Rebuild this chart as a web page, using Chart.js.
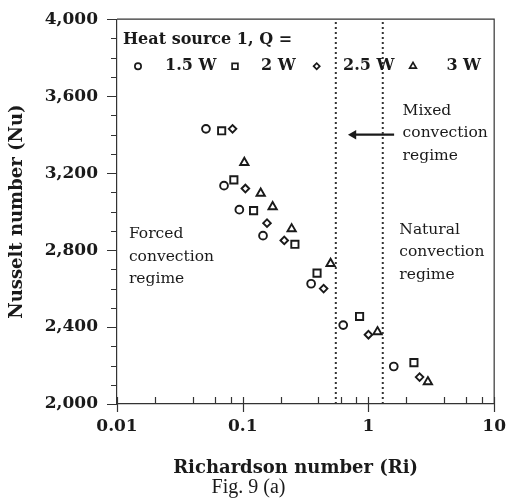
<!DOCTYPE html>
<html>
<head>
<meta charset="utf-8">
<script src="https://cdn.jsdelivr.net/npm/chart.js@4.4.1/dist/chart.umd.min.js"></script>
<style>
  html, body { margin: 0; padding: 0; background: #fff; }
  #wrap { width: 510px; height: 501px; }
</style>
</head>
<body>
<div id="wrap"><canvas id="nuChart"></canvas></div>
<script>
/* Nusselt vs Richardson, heat source 1 */

// Ri / Nu per heat input
const ri15 = [0.051, 0.071, 0.094, 0.145, 0.35, 0.63, 1.59];
const nu15 = [3430, 3135, 3010, 2875, 2625, 2410, 2195];
const ri20 = [0.068, 0.085, 0.122, 0.26, 0.39, 0.85, 2.3];
const nu20 = [3420, 3165, 3005, 2830, 2680, 2455, 2215];
const ri25 = [0.083, 0.105, 0.156, 0.214, 0.44, 1.0, 2.55];
const nu25 = [3430, 3120, 2940, 2850, 2600, 2360, 2140];
const ri30 = [0.103, 0.139, 0.173, 0.245, 0.5, 1.18, 2.97];
const nu30 = [3255, 3095, 3025, 2910, 2730, 2375, 2115];

const seriesLabels = ["1.5 W", "2 W", "2.5 W", "3 W"];

// mixed regime bounds (dotted verticals) + arrow
const regimeBounds = [0.55, 1.3];
const boundNu = [2000, 4000];
const arrowRi = [1.6, 0.76];
const arrowNu = [3400, 3400];

// axes
const xTickValues = [0.01, 0.02, 0.04, 0.06, 0.08, 0.1, 0.2, 0.4, 0.6, 0.8, 1, 2, 4, 6, 8, 10];
const xLabelValues = [0.01, 0.1, 1, 10];
const yMin = 2000, yMax = 4000, yStep = 100, yLabelStep = 400;

const INK = "#1a1a1a";
const SERIF = "'DejaVu Serif', serif";
const TICK_FONT = { family: SERIF, size: 17, weight: "bold" };

const pts = (xs, ys) => xs.map((x, i) => ({ x, y: ys[i] }));

const markers = [
  { style: "circle", radius: 3.9 },
  { style: "rect", radius: 5.1 },
  { style: "rectRot", radius: 3.8 },
  { style: "triangle", radius: 4.8 },
];

const seriesData = [pts(ri15, nu15), pts(ri20, nu20), pts(ri25, nu25), pts(ri30, nu30)];

const datasets = seriesData.map((data, i) => ({
  label: seriesLabels[i],
  data,
  pointStyle: markers[i].style,
  pointRadius: markers[i].radius,
  pointBorderWidth: 1.9,
  pointBorderColor: INK,
  pointBackgroundColor: "#fff",
  showLine: false,
}));

regimeBounds.forEach((ri) => {
  datasets.push({
    label: "bound",
    data: boundNu.map((nu) => ({ x: ri, y: nu })),
    showLine: true,
    borderColor: "#333",
    borderWidth: 2,
    borderDash: [2, 3],
    pointRadius: 0,
  });
});

datasets.push({
  label: "arrow",
  data: pts(arrowRi, arrowNu),
  showLine: true,
  borderColor: INK,
  borderWidth: 2.2,
  pointRadius: [0, 5.5],
  pointStyle: "triangle",
  pointRotation: 270,
  pointBorderWidth: 0,
  pointBackgroundColor: INK,
});

// region labels, anchored in data coords
const notes = [
  { ri: 0.01244, nu: 2882, lines: ["Forced", "convection", "regime"] },
  { ri: 1.87, nu: 3525, lines: ["Mixed", "convection", "regime"] },
  { ri: 1.76, nu: 2907, lines: ["Natural", "convection", "regime"] },
];

/* ---------- frame, ticks, legend, notes ---------- */
const decor = {
  id: "decor",
  afterDraw(chart) {
    const { ctx, chartArea: a, scales: { x, y } } = chart;
    ctx.save();

    // top/right frame + tick marks
    ctx.strokeStyle = "#333";
    ctx.lineWidth = 1.2;
    ctx.beginPath();
    ctx.moveTo(a.left, a.top);
    ctx.lineTo(a.right, a.top);
    ctx.lineTo(a.right, a.bottom);
    y.ticks.forEach((t) => {
      const py = Math.round(y.getPixelForValue(t.value)) + 0.5;
      const len = t.value % yLabelStep === 0 ? 10 : 6;
      ctx.moveTo(a.left - len, py);
      ctx.lineTo(a.left, py);
    });
    x.ticks.forEach((t) => {
      const px = Math.round(x.getPixelForValue(t.value)) + 0.5;
      const major = xLabelValues.includes(t.value);
      ctx.moveTo(px, a.bottom - 7);
      ctx.lineTo(px, a.bottom + (major ? 8 : 0));
    });
    ctx.stroke();

    // legend
    ctx.fillStyle = INK;
    ctx.textBaseline = "middle";
    ctx.textAlign = "left";
    ctx.font = `bold 16px ${SERIF}`;
    ctx.fillText("Heat source 1, Q =", a.left + 6, a.top + 21);
    const markX = [21, 118, 199.7, 296];
    const textX = [48, 144, 226, 329.4];
    const rowY = a.top + 47;
    seriesLabels.forEach((lab, i) => {
      ctx.strokeStyle = INK;
      ctx.fillStyle = "#fff";
      ctx.lineWidth = 1.7;
      Chart.helpers.drawPoint(ctx, {
        pointStyle: markers[i].style, radius: markers[i].radius * 0.8, rotation: 0, borderWidth: 1.7,
      }, a.left + markX[i], rowY);
      ctx.fillStyle = INK;
      ctx.fillText(lab, a.left + textX[i], rowY);
    });

    // regime notes
    ctx.font = `15.5px ${SERIF}`;
    notes.forEach((n) => {
      const px = x.getPixelForValue(n.ri);
      const py = y.getPixelForValue(n.nu);
      n.lines.forEach((s, k) => ctx.fillText(s, px, py + k * 22.5));
    });

    // x title
    ctx.font = `bold 18px ${SERIF}`;
    ctx.textAlign = "center";
    ctx.fillText("Richardson number (Ri)", (a.left + a.right) / 2 - 10, a.bottom + 64);
    ctx.restore();
  },
};

new Chart(document.getElementById("nuChart"), {
  type: "scatter",
  data: { datasets },
  options: {
    responsive: true,
    maintainAspectRatio: false,
    animation: false,
    events: [],
    layout: { padding: { top: 16, right: 13, left: 0, bottom: 1 } },
    plugins: {
      legend: { display: false },
      tooltip: { enabled: false },
      title: {
        display: true,
        position: "bottom",
        text: "Fig. 9 (a)",
        color: INK,
        font: { family: "'Liberation Serif', serif", size: 20, weight: "normal" },
        padding: { top: 0, bottom: 0 },
      },
    },
    scales: {
      x: {
        type: "logarithmic",
        min: 0.01,
        max: 10,
        afterBuildTicks: (s) => { s.ticks = xTickValues.map((v) => ({ value: v })); },
        afterFit: (s) => { s.height = 72; },
        grid: { display: false, drawTicks: true, tickLength: 8 },
        border: { display: true, color: "#333", width: 1.2 },
        ticks: {
          autoSkip: false,
          maxRotation: 0,
          padding: 4,
          color: INK,
          font: TICK_FONT,
          callback: (v) => (xLabelValues.includes(v) ? String(v) : ""),
        },
      },
      y: {
        min: yMin,
        max: yMax,
        afterFit: (s) => { s.width = 117; },
        grid: { display: false, drawTicks: true, tickLength: 10 },
        border: { display: true, color: "#333", width: 1.2 },
        title: {
          display: true,
          text: "Nusselt number (Nu)",
          color: INK,
          font: { family: SERIF, size: 18, weight: "bold" },
          padding: { top: 7, bottom: 0 },
        },
        ticks: {
          stepSize: yStep,
          autoSkip: false,
          padding: 9,
          color: INK,
          font: TICK_FONT,
          callback: (v) => (v % yLabelStep === 0 ? v.toLocaleString("en-US") : ""),
        },
      },
    },
  },
  plugins: [decor],
});
</script>
</body>
</html>
